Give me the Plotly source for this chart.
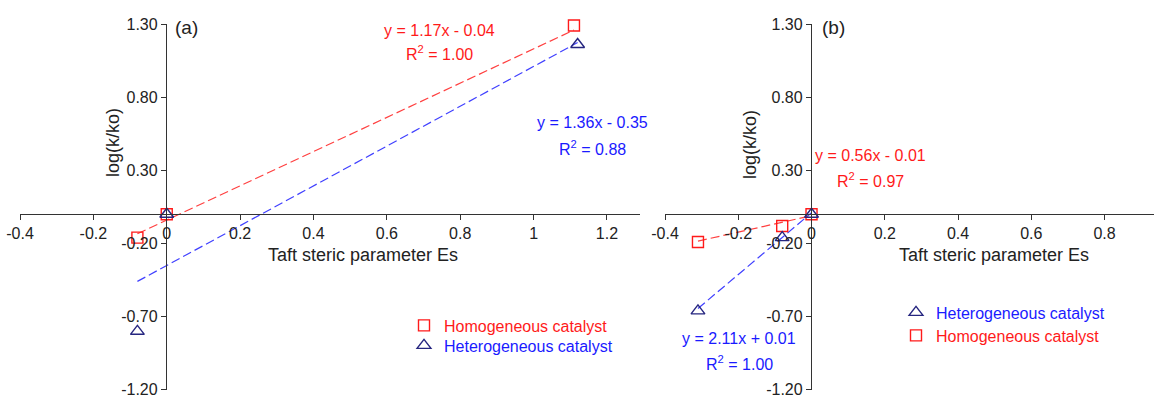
import plotly.graph_objects as go

# ---------------- data ----------------
# panel (a)
a_homo_x = [-0.08, 0.0, 1.11]
a_homo_y = [-0.16, 0.0, 1.29]
a_het_x = [-0.08, 0.0, 1.12]
a_het_y = [-0.80, 0.0, 1.16]
a_homo_fit = (1.17, -0.04)
a_het_fit = (1.36, -0.35)

# panel (b)
b_homo_x = [-0.31, -0.08, 0.0]
b_homo_y = [-0.19, -0.08, 0.0]
b_het_x = [-0.31, -0.08, 0.0]
b_het_y = [-0.66, -0.16, 0.0]
b_homo_fit = (0.56, -0.01)
b_het_fit = (2.11, 0.01)

y_ticks = [-1.2, -0.7, -0.2, 0.3, 0.8, 1.3]
y_ticktext = ["-1.20", "-0.70", "-0.20", "0.30", "0.80", "1.30"]
a_x_ticks = [-0.4, -0.2, 0, 0.2, 0.4, 0.6, 0.8, 1.0, 1.2]
a_x_ticktext = ["-0.4", "-0.2", "0", "0.2", "0.4", "0.6", "0.8", "1", "1.2"]
b_x_ticks = [-0.4, -0.2, 0, 0.2, 0.4, 0.6, 0.8]
b_x_ticktext = ["-0.4", "-0.2", "0", "0.2", "0.4", "0.6", "0.8"]

series_names = ["Homogeneous catalyst", "Heterogeneous catalyst"]

eq_a_homo = ["y = 1.17x - 0.04", "R<sup>2</sup> = 1.00"]
eq_a_het = ["y = 1.36x - 0.35", "R<sup>2</sup> = 0.88"]
eq_b_homo = ["y = 0.56x - 0.01", "R<sup>2</sup> = 0.97"]
eq_b_het = ["y = 2.11x + 0.01", "R<sup>2</sup> = 1.00"]

# ---------------- style ----------------
W, H = 1154, 397
FONT = "Liberation Sans, Arial, sans-serif"
RED = "#ff1a1a"
RED_LINE = "#ff4040"
BLUE = "#1a1aff"
BLUE_LINE = "#4040ff"
NAVY = "#262680"
AXIS = "#333333"

def px(x):
    return x / W

def py(y):
    return 1 - y / H

def fit_line(xs, fit):
    lo, hi = min(xs), max(xs)
    m, b = fit
    return [lo, hi], [m * lo + b, m * hi + b]

fig = go.Figure()

def add_panel(xa, ya, homo_x, homo_y, het_x, het_y, homo_fit, het_fit, leg_homo, leg_het):
    lx, ly = fit_line(homo_x, homo_fit)
    fig.add_trace(go.Scatter(x=lx, y=ly, mode="lines", xaxis=xa, yaxis=ya,
                             line=dict(color=RED_LINE, width=1.2, dash="9px,4px"),
                             showlegend=False, hoverinfo="skip", cliponaxis=False))
    lx, ly = fit_line(het_x, het_fit)
    fig.add_trace(go.Scatter(x=lx, y=ly, mode="lines", xaxis=xa, yaxis=ya,
                             line=dict(color=BLUE_LINE, width=1.2, dash="9px,4px"),
                             showlegend=False, hoverinfo="skip", cliponaxis=False))
    fig.add_trace(go.Scatter(x=homo_x, y=homo_y, mode="markers", xaxis=xa, yaxis=ya,
                             name=series_names[0],
                             marker=dict(symbol="square-open", size=11, color=RED, line=dict(width=1.4)),
                             legend=leg_homo, cliponaxis=False))
    fig.add_trace(go.Scatter(x=het_x, y=het_y, mode="markers", xaxis=xa, yaxis=ya,
                             name=series_names[1],
                             marker=dict(symbol="triangle-up-open", size=12, color=NAVY, line=dict(width=1.4)),
                             legend=leg_het, cliponaxis=False))

add_panel("x", "y", a_homo_x, a_homo_y, a_het_x, a_het_y, a_homo_fit, a_het_fit, "legend", "legend2")
add_panel("x2", "y2", b_homo_x, b_homo_y, b_het_x, b_het_y, b_homo_fit, b_het_fit, "legend4", "legend3")

y0_paper = py(214)
y_dom = [py(390), py(24)]

common_x = dict(showline=True, linecolor=AXIS, linewidth=1.3, ticks="outside", ticklen=5,
                tickcolor=AXIS, showgrid=False, zeroline=False, anchor="free", automargin=False,
                position=y0_paper, ticklabeloverflow="allow",
                tickfont=dict(family=FONT, size=16, color="#222"))
common_y = dict(showline=True, linecolor=AXIS, linewidth=1.3, ticks="outside", ticklen=5,
                tickcolor=AXIS, showgrid=False, zeroline=False, anchor="free", automargin=False,
                range=[-1.201, 1.3], domain=y_dom, tickvals=y_ticks, ticktext=y_ticktext,
                ticklabeloverflow="allow",
                tickfont=dict(family=FONT, size=16, color="#222"))

def leg(x, top, color):
    return dict(x=px(x), y=py(top), xanchor="left", yanchor="top",
                font=dict(family=FONT, size=16, color=color), bgcolor="rgba(0,0,0,0)",
                tracegroupgap=0, itemwidth=30)

fig.update_layout(
    width=W, height=H,
    margin=dict(l=0, r=0, t=0, b=0, autoexpand=False),
    paper_bgcolor="white", plot_bgcolor="white",
    font=dict(family=FONT, color="#222"),
    xaxis=dict(common_x, domain=[px(20), px(640)], range=[-0.4, 1.29],
               tickvals=a_x_ticks, ticktext=a_x_ticktext),
    yaxis=dict(common_y, position=px(166)),
    xaxis2=dict(common_x, domain=[px(665), 1.0], range=[-0.4, 0.935],
                tickvals=b_x_ticks, ticktext=b_x_ticktext),
    yaxis2=dict(common_y, position=px(811)),
    legend=leg(404, 308.5, RED),
    legend2=leg(404, 328.5, BLUE),
    legend3=leg(896, 295.5, BLUE),
    legend4=leg(896, 318.5, RED),
    showlegend=True,
)

annos = []
def text(x, y, s, color="#222", size=16, angle=0):
    annos.append(dict(x=px(x), y=py(y), xref="paper", yref="paper", text=s,
                      showarrow=False, xanchor="center", yanchor="middle",
                      textangle=angle, font=dict(family=FONT, size=size, color=color)))

# panel labels
text(186, 27, "(a)", size=19)
text(833, 28, "(b)", size=19)
# axis titles
text(363, 255, "Taft steric parameter Es", size=18)
text(994, 255, "Taft steric parameter Es", size=18)
text(113, 143, "log(k/ko)", size=18, angle=-90)
text(750, 145, "log(k/ko)", size=18, angle=-90)
# equations
text(439, 30, eq_a_homo[0], RED)
text(439, 53, eq_a_homo[1], RED)
text(592, 123, eq_a_het[0], BLUE)
text(592, 148, eq_a_het[1], BLUE)
text(870, 155, eq_b_homo[0], RED)
text(870, 180, eq_b_homo[1], RED)
text(739, 338, eq_b_het[0], BLUE)
text(739, 363, eq_b_het[1], BLUE)

fig.update_layout(annotations=annos)

fig.write_html("out.html", config={"displayModeBar": False},
               post_script="document.body.style.margin='0';")
